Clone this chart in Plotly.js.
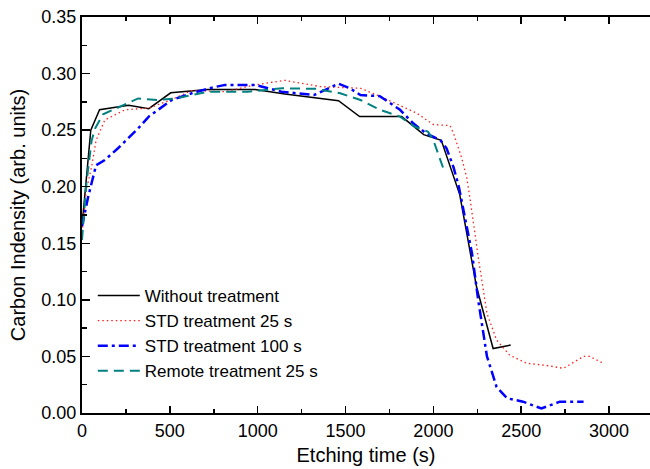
<!DOCTYPE html>
<html>
<head>
<meta charset="utf-8">
<script src="https://cdn.plot.ly/plotly-3.0.1.min.js"></script>
<style>html,body{margin:0;padding:0;background:#fff;}#chart{width:650px;height:469px;}</style>
</head>
<body>
<div id="chart"></div>
<script>
const seriesNames = ["Without treatment", "STD treatment 25 s", "STD treatment 100 s", "Remote treatment 25 s"];

const withoutX = [0, 50, 100, 265, 380, 505, 715, 985, 1155, 1385, 1460, 1580, 1820, 1945, 2045, 2150, 2245, 2340, 2440];
const withoutY = [0.165, 0.250, 0.268, 0.272, 0.269, 0.283, 0.286, 0.286, 0.282, 0.2775, 0.276, 0.262, 0.262, 0.246, 0.241, 0.193, 0.112, 0.057, 0.060];

const std25X = [0, 25, 55, 80, 130, 245, 380, 510, 625, 815, 985, 1155, 1355, 1585, 1695, 1810, 1905, 2000, 2095, 2115, 2160, 2190, 2210, 2255, 2305, 2360, 2435, 2530, 2645, 2740, 2800, 2855, 2890, 2960];
const std25Y = [0.160, 0.197, 0.218, 0.241, 0.259, 0.268, 0.2695, 0.277, 0.285, 0.284, 0.290, 0.294, 0.2885, 0.287, 0.280, 0.272, 0.265, 0.255, 0.254, 0.247, 0.226, 0.208, 0.188, 0.138, 0.088, 0.0645, 0.051, 0.044, 0.042, 0.0395, 0.045, 0.050, 0.050, 0.0445];

const std100X = [0, 35, 80, 130, 205, 320, 380, 510, 625, 740, 815, 985, 1135, 1320, 1460, 1525, 1585, 1695, 1810, 1885, 1960, 2040, 2075, 2115, 2145, 2180, 2220, 2255, 2305, 2360, 2420, 2510, 2615, 2720, 2855];
const std100Y = [0.165, 0.191, 0.219, 0.2236, 0.234, 0.2516, 0.262, 0.2766, 0.2826, 0.2876, 0.290, 0.290, 0.284, 0.281, 0.291, 0.287, 0.281, 0.280, 0.268, 0.256, 0.247, 0.241, 0.234, 0.217, 0.200, 0.171, 0.141, 0.100, 0.050, 0.023, 0.013, 0.010, 0.004, 0.010, 0.010];

const remoteX = [0, 25, 55, 75, 120, 205, 320, 435, 530, 720, 945, 1140, 1330, 1470, 1585, 1695, 1810, 1895, 1970, 2000, 2020, 2066];
const remoteY = [0.153, 0.203, 0.241, 0.2516, 0.264, 0.270, 0.278, 0.2766, 0.278, 0.284, 0.284, 0.287, 0.2865, 0.2826, 0.2766, 0.268, 0.262, 0.253, 0.2486, 0.241, 0.2325, 0.212];

const xTitle = "Etching time (s)";
const yTitle = "Carbon Indensity (arb. units)";

const font = "Liberation Sans, Arial, Helvetica, sans-serif";

const traces = [
  {x: withoutX, y: withoutY, name: seriesNames[0], mode: "lines", line: {color: "#000000", width: 1.5}},
  {x: std25X, y: std25Y, name: seriesNames[1], mode: "lines", line: {color: "#ff2020", width: 1.3, dash: "1.5px,3px"}},
  {x: std100X, y: std100Y, name: seriesNames[2], mode: "lines", line: {color: "#0000ff", width: 2.5, dash: "10px,4px,3px,4px"}},
  {x: remoteX, y: remoteY, name: seriesNames[3], mode: "lines", line: {color: "#008080", width: 2, dash: "10px,6px"}}
];

const layout = {
  width: 650, height: 469,
  margin: {l: 82, r: 0, t: 17, b: 56, pad: 0},
  paper_bgcolor: "#ffffff", plot_bgcolor: "#ffffff",
  font: {family: font, size: 18, color: "#000"},
  showlegend: true,
  legend: {x: 0.019, y: 0.341, xanchor: "left", yanchor: "top", bgcolor: "rgba(0,0,0,0)", font: {family: font, size: 17, color: "#000"}, tracegroupgap: 0, itemwidth: 42},
  xaxis: {
    range: [0, 3233], tick0: 0, dtick: 500, ticks: "inside", ticklen: 7, tickwidth: 1.5, tickcolor: "#000",
    showline: true, linecolor: "#000", linewidth: 2, mirror: "ticks", showgrid: false, zeroline: false,
    minor: {dtick: 250, ticks: "inside", ticklen: 4, tickwidth: 1.5, tickcolor: "#000"},
    tickfont: {family: font, size: 18, color: "#000"},
    title: {text: xTitle, font: {family: font, size: 20, color: "#000"}, standoff: 8}
  },
  yaxis: {
    range: [0, 0.35], tick0: 0, dtick: 0.05, tickformat: ".2f", ticks: "inside", ticklen: 8, tickwidth: 1.5, tickcolor: "#000",
    showline: true, linecolor: "#000", linewidth: 2, mirror: false, showgrid: false, zeroline: false,
    minor: {dtick: 0.025, ticks: "inside", ticklen: 5, tickwidth: 1.5, tickcolor: "#000"},
    tickfont: {family: font, size: 18, color: "#000"},
    title: {text: yTitle, font: {family: font, size: 20, color: "#000"}, standoff: 10}
  }
};

Plotly.newPlot("chart", traces, layout, {staticPlot: true, displayModeBar: false});
</script>
</body>
</html>
